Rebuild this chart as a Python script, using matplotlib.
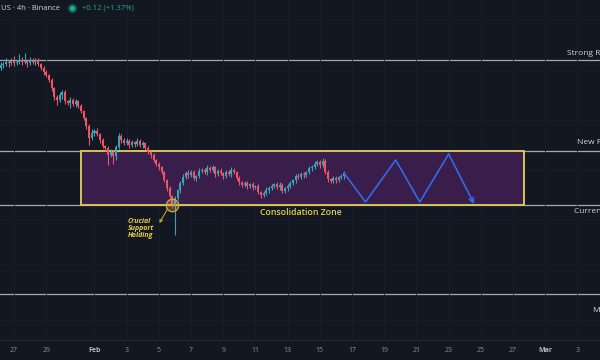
import numpy as np
import pandas as pd
import matplotlib
matplotlib.use('Agg')
import matplotlib.pyplot as plt
import matplotlib.dates as mdates
from matplotlib.patches import Rectangle

OUTPUT_FILENAME = 'out.png'

BG = '#131722'
GRID = '#1a1e29'
UP = '#3aa3b5'
DOWN = '#ef5366'
LEVEL = '#a6a9b1'
YELLOW = '#e4d04c'
BLUE = '#3568e8'

# 4h candles, the first one opens Jan 26 04:00
first_candle = '2025-01-26 04:00'
first_open = 11.04
closes = [
    11.10, 11.12, 11.16, 11.14, 11.18, 11.14, 11.16, 11.20, 11.16, 11.18,
    11.14, 11.18, 11.16, 11.20, 11.12, 11.04, 10.96, 10.90, 10.80, 10.64,
    10.46, 10.40, 10.50, 10.56, 10.38, 10.34, 10.40, 10.32, 10.38, 10.28,
    10.18, 10.04, 9.88, 9.64, 9.74, 9.78, 9.72, 9.60, 9.48, 9.44,
    9.30, 9.36, 9.28, 9.46, 9.68, 9.60, 9.54, 9.58, 9.50, 9.56,
    9.52, 9.58, 9.50, 9.54, 9.44, 9.36, 9.30, 9.20, 9.12, 9.06,
    8.96, 8.80, 8.64, 8.48, 8.32, 8.44, 8.60, 8.74, 8.86, 8.94,
    8.90, 8.96, 8.84, 8.88, 8.98, 9.00, 8.96, 9.04, 9.00, 9.06,
    8.92, 8.98, 8.94, 8.88, 8.96, 8.92, 9.00, 8.96, 8.84, 8.76,
    8.70, 8.74, 8.68, 8.72, 8.66, 8.68, 8.56, 8.50, 8.54, 8.60,
    8.64, 8.68, 8.72, 8.66, 8.70, 8.58, 8.64, 8.68, 8.74, 8.80,
    8.88, 8.86, 8.92, 8.90, 8.96, 9.04, 9.06, 9.12, 9.16, 9.10,
    9.18, 8.96, 8.82, 8.78, 8.84, 8.80, 8.86, 8.88, 8.94,
]
upper_wicks = [
    0.06, 0.04, 0.08, 0.04, 0.06, 0.10, 0.04, 0.12, 0.06, 0.16,
    0.04, 0.08, 0.06, 0.04, 0.04, 0.02, 0.04, 0.04, 0.02, 0.04,
    0.02, 0.04, 0.06, 0.04, 0.04, 0.02, 0.06, 0.04, 0.04, 0.02,
    0.04, 0.02, 0.02, 0.04, 0.08, 0.04, 0.06, 0.02, 0.04, 0.02,
    0.04, 0.06, 0.04, 0.04, 0.06, 0.04, 0.04, 0.06, 0.04, 0.04,
    0.02, 0.06, 0.04, 0.04, 0.02, 0.04, 0.02, 0.04, 0.02, 0.04,
    0.02, 0.02, 0.02, 0.04, 0.02, 0.04, 0.02, 0.04, 0.06, 0.04,
    0.06, 0.04, 0.04, 0.02, 0.06, 0.04, 0.04, 0.06, 0.04, 0.04,
    0.02, 0.04, 0.06, 0.02, 0.04, 0.04, 0.06, 0.04, 0.02, 0.04,
    0.02, 0.04, 0.04, 0.02, 0.04, 0.02, 0.04, 0.02, 0.04, 0.06,
    0.04, 0.04, 0.02, 0.04, 0.06, 0.04, 0.02, 0.04, 0.04, 0.02,
    0.04, 0.06, 0.04, 0.04, 0.02, 0.04, 0.04, 0.06, 0.04, 0.04,
    0.06, 0.04, 0.04, 0.02, 0.04, 0.04, 0.02, 0.04, 0.04,
]
lower_wicks = [
    0.04, 0.06, 0.04, 0.08, 0.04, 0.06, 0.04, 0.04, 0.06, 0.04,
    0.08, 0.04, 0.04, 0.06, 0.04, 0.04, 0.06, 0.04, 0.04, 0.06,
    0.06, 0.10, 0.04, 0.08, 0.06, 0.04, 0.10, 0.04, 0.06, 0.04,
    0.04, 0.04, 0.06, 0.14, 0.04, 0.06, 0.04, 0.06, 0.04, 0.06,
    0.20, 0.04, 0.16, 0.08, 0.04, 0.06, 0.04, 0.04, 0.06, 0.04,
    0.06, 0.04, 0.04, 0.06, 0.04, 0.04, 0.06, 0.04, 0.04, 0.06,
    0.04, 0.04, 0.06, 0.04, 0.06, 0.62, 0.04, 0.06, 0.04, 0.04,
    0.06, 0.04, 0.04, 0.06, 0.04, 0.04, 0.04, 0.06, 0.04, 0.04,
    0.06, 0.04, 0.04, 0.06, 0.04, 0.04, 0.06, 0.04, 0.04, 0.06,
    0.04, 0.04, 0.06, 0.04, 0.06, 0.04, 0.04, 0.06, 0.04, 0.04,
    0.06, 0.04, 0.04, 0.04, 0.06, 0.04, 0.04, 0.06, 0.04, 0.04,
    0.06, 0.04, 0.04, 0.06, 0.04, 0.04, 0.06, 0.04, 0.04, 0.06,
    0.04, 0.04, 0.06, 0.04, 0.04, 0.06, 0.04, 0.04, 0.06,
]

# horizontal levels drawn across the chart
levels = [11.20, 9.38, 8.30, 6.52]
level_names = ['Strong Resistance', 'New Resistance', 'Current Support', 'Major Support']

# consolidation box
zone_start = '2025-01-31 04:00'
zone_end = '2025-02-27 16:00'
zone_low = 8.30
zone_high = 9.38

# projected zig-zag path
proj_times = ['2025-02-16 12:00', '2025-02-17 20:00', '2025-02-19 17:00',
              '2025-02-21 05:00', '2025-02-23 00:00', '2025-02-24 14:00']
proj_prices = [8.94, 8.36, 9.20, 8.36, 9.32, 8.32]

tick_dates = ['2025-01-27', '2025-01-29', '2025-02-01', '2025-02-03', '2025-02-05',
              '2025-02-07', '2025-02-09', '2025-02-11', '2025-02-13', '2025-02-15',
              '2025-02-17', '2025-02-19', '2025-02-21', '2025-02-23', '2025-02-25',
              '2025-02-27', '2025-03-01', '2025-03-03']
tick_labels = ['27', '29', 'Feb', '3', '5', '7', '9', '11', '13', '15',
               '17', '19', '21', '23', '25', '27', 'Mar', '3']

assert len(closes) == len(upper_wicks) == len(lower_wicks)

plt.rcParams['font.family'] = ['Open Sans', 'DejaVu Sans']

fig = plt.figure(figsize=(6, 3.6), dpi=100, facecolor=BG)
ax = fig.add_axes([0, 20 / 360, 1, 340 / 360])
ax.set_facecolor(BG)

times = pd.date_range(first_candle, periods=len(closes), freq='4h')
x = mdates.date2num(times)
c = np.array(closes)
o = np.array([first_open] + closes[:-1])
highs = np.maximum(o, c) + np.array(upper_wicks)
lows = np.minimum(o, c) - np.array(lower_wicks)
colors = np.where(c >= o, UP, DOWN)

ax.vlines(x, lows, highs, colors=colors, lw=0.8, zorder=3)
ax.bar(x, np.maximum(np.abs(c - o), 0.014), bottom=np.minimum(o, c),
       width=4 / 24 * 0.75, color=colors, lw=0, zorder=4)

# levels
for lv in levels:
    ax.axhline(lv, color=LEVEL, lw=0.9, zorder=1.5)
label_offsets = [7, 8, -7, -16]
for lv, name, dy, lx in zip(levels, level_names, label_offsets, [0.945, 0.962, 0.957, 0.988]):
    ax.annotate(name, xy=(lx, lv), xycoords=('axes fraction', 'data'),
                xytext=(0, dy * 0.72), textcoords='offset points',
                ha='left', va='center', fontsize=6, color='#d1d4dc')

# consolidation zone
z0 = mdates.date2num(pd.Timestamp(zone_start))
z1 = mdates.date2num(pd.Timestamp(zone_end))
ax.add_patch(Rectangle((z0, zone_low), z1 - z0, zone_high - zone_low,
                       facecolor='#391e4c', edgecolor='#d6c55a', lw=1.4, zorder=2))
ax.annotate('Consolidation Zone', xy=((z0 + z1) / 2 - 0.1, zone_low),
            xytext=(0, -2.5), textcoords='offset points', ha='center', va='top',
            fontsize=6.3, fontweight='semibold', color=YELLOW)

# projection
px = mdates.date2num(pd.to_datetime(proj_times))
ax.plot(px[:-1], proj_prices[:-1], color=BLUE, lw=1.2, zorder=5)
ax.annotate('', xy=(px[-1], proj_prices[-1]), xytext=(px[-2], proj_prices[-2]),
            arrowprops=dict(arrowstyle='->', color=BLUE, lw=1.2,
                            shrinkA=0, shrinkB=0, mutation_scale=8), zorder=5)

# support holding marker
low_idx = int(np.argmin(c))
ax.plot(x[low_idx], zone_low, 'o', ms=9, mfc=(0.85, 0.65, 0.25, 0.35),
        mec='#d8a845', mew=0.9, zorder=6)
ax.annotate('', xy=(x[low_idx] - 0.8, 7.94), xytext=(x[low_idx] - 0.3, 8.22),
            arrowprops=dict(arrowstyle='->', color='#c9b04a', lw=0.7,
                            shrinkA=0, shrinkB=0, mutation_scale=5), zorder=6)
ax.text(x[low_idx] - 2.75, 7.83, 'Crucial\nSupport\nHolding', ha='left', va='center',
        fontsize=5, fontstyle='italic', fontweight='bold', color=YELLOW,
        linespacing=1.05, zorder=6)

# axes
ax.set_xlim(mdates.date2num(pd.Timestamp('2025-01-27')) - 0.87,
            mdates.date2num(pd.Timestamp('2025-01-27')) + 36.4)
ax.set_ylim(5.6, 12.4)
ax.set_xticks(mdates.date2num(pd.to_datetime(tick_dates)))
ax.set_xticklabels(tick_labels)
ax.set_yticks(np.arange(6, 13))
ax.grid(True, color=GRID, lw=0.6, zorder=0)
ax.tick_params(axis='y', left=False, labelleft=False)
ax.tick_params(axis='x', length=0, pad=5, labelsize=5, colors='#8b8f9a')
for lbl in ax.get_xticklabels():
    if lbl.get_text() in ('Feb', 'Mar'):
        lbl.set_fontweight('bold')
        lbl.set_color('#b2b5be')
for side in ['top', 'left', 'right']:
    ax.spines[side].set_visible(False)
ax.spines['bottom'].set_color('#2a2e39')
ax.spines['bottom'].set_linewidth(0.6)

# header
fig.text(0.001, 1 - 8 / 360, 'US · 4h · Binance', ha='left', va='center',
         fontsize=5.5, color='#d1d4dc')
fig.lines.append(plt.Line2D([72 / 600], [1 - 8 / 360], marker='o', ms=6,
                            color='#0f4a40', transform=fig.transFigure))
fig.lines.append(plt.Line2D([72 / 600], [1 - 8 / 360], marker='o', ms=3,
                            color='#22ab94', transform=fig.transFigure))
fig.text(82 / 600, 1 - 8 / 360, '+0.12 (+1.37%)', ha='left', va='center',
         fontsize=5.5, color='#22ab94')

fig.savefig(OUTPUT_FILENAME, dpi=100, facecolor=BG)
